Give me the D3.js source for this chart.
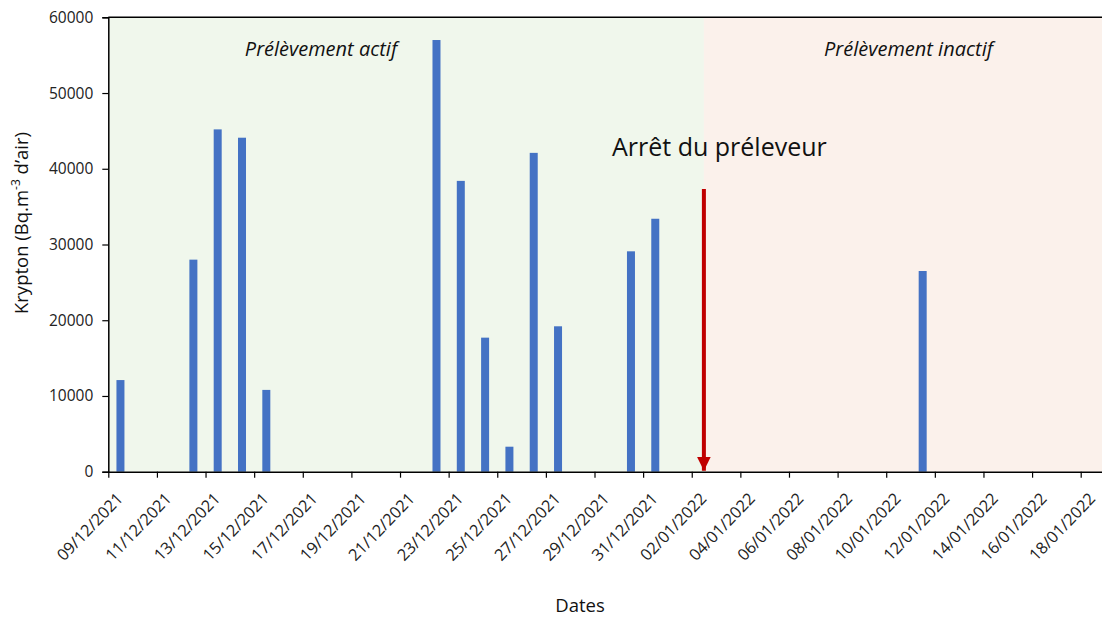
<!DOCTYPE html>
<html>
<head>
<meta charset="utf-8">
<script src="https://cdn.jsdelivr.net/npm/d3@7"></script>
<style>
  html, body { margin: 0; padding: 0; background: #fff; }
  svg { display: block; font-family: "Open Sans", sans-serif; }
</style>
</head>
<body>
<svg id="chart" width="1102" height="617"></svg>
<script>
// ---- data ----
const dates = ["09/12/2021","12/12/2021","13/12/2021","14/12/2021","15/12/2021",
               "22/12/2021","23/12/2021","24/12/2021","25/12/2021","26/12/2021","27/12/2021",
               "30/12/2021","31/12/2021","11/01/2022"];
const values = [12100, 28000, 45200, 44100, 10800,
                57000, 38400, 17700, 3300, 42100, 19200,
                29100, 33400, 26500];
const yTicks = [0, 10000, 20000, 30000, 40000, 50000, 60000];
const domainStart = "09/12/2021";
const domainEnd = "19/01/2022";
const stopDate = "02/01/2022";
const zoneLabels = ["Prélèvement actif", "Prélèvement inactif"];
const annotation = "Arrêt du préleveur";
const xTitle = "Dates";

// ---- setup ----
(function () {
const parse = d3.utcParse("%d/%m/%Y");
const fmt = d3.utcFormat("%d/%m/%Y");
const svg = d3.select("#chart");
const pLeft = 108.3, pTop = 17.3, pBottom = 471.7;
const dayW = 24.31;
const t0 = parse(domainStart), t1 = parse(domainEnd);
const nDays = d3.utcDay.count(t0, t1);
const x = d3.scaleUtc().domain([t0, t1]).range([pLeft, pLeft + nDays * dayW]);
const y = d3.scaleLinear().domain([0, 60000]).range([pBottom, pTop]);

const stopX = x(d3.utcHour.offset(parse(stopDate), 12));

// backgrounds
svg.append("rect").attr("x", pLeft).attr("y", pTop).attr("width", stopX - pLeft).attr("height", pBottom - pTop)
  .attr("fill", "#F0F7EC");
svg.append("rect").attr("x", stopX).attr("y", pTop).attr("width", x.range()[1] - stopX).attr("height", pBottom - pTop)
  .attr("fill", "#FBF1EB");

// top border
svg.append("line").attr("x1", pLeft).attr("x2", x.range()[1]).attr("y1", pTop).attr("y2", pTop)
  .attr("stroke", "#000").attr("stroke-width", 1.5);

// zone labels
svg.append("text").attr("x", 321).attr("y", 56).attr("text-anchor", "middle")
  .attr("font-style", "italic").attr("font-size", 20).attr("fill", "#111").text(zoneLabels[0]);
svg.append("text").attr("x", 908.5).attr("y", 56).attr("text-anchor", "middle")
  .attr("font-style", "italic").attr("font-size", 20).attr("fill", "#111").text(zoneLabels[1]);

// bars
const barW = 8;
svg.append("g").selectAll("rect").data(dates.map((d, i) => ({d: parse(d), v: values[i]})))
  .join("rect")
  .attr("x", d => x(d3.utcHour.offset(d.d, 12)) - barW / 2)
  .attr("y", d => y(d.v))
  .attr("width", barW)
  .attr("height", d => y(0) - y(d.v))
  .attr("fill", "#4472C4");

// y axis
const yAxis = svg.append("g").attr("transform", `translate(${pLeft},0)`)
  .call(d3.axisLeft(y).tickValues(yTicks).tickFormat(d3.format("d")).tickSize(6).tickPadding(9));
yAxis.select(".domain").attr("stroke", "#000").attr("stroke-width", 1.5);
yAxis.selectAll(".tick line").attr("stroke", "#000").attr("stroke-width", 1.2);
yAxis.selectAll(".tick text").attr("font-size", 15.5).attr("fill", "#222").attr("font-family", "Open Sans");

// x axis
const xTickVals = d3.utcDay.range(t0, t1, 2);
const xAxis = svg.append("g").attr("transform", `translate(0,${pBottom})`)
  .call(d3.axisBottom(x).tickValues(xTickVals).tickFormat(fmt).tickSize(6).tickSizeOuter(0));
xAxis.select(".domain").attr("stroke", "#000").attr("stroke-width", 1.5);
xAxis.selectAll(".tick line").attr("stroke", "#000").attr("stroke-width", 1.2);
xAxis.selectAll(".tick text")
  .attr("font-size", 16.3).attr("fill", "#222").attr("font-family", "Open Sans")
  .attr("text-anchor", "end")
  .attr("y", 0).attr("dy", "0.35em")
  .attr("transform", "translate(11,24) rotate(-46)");

// arrow
const defs = svg.append("defs");
defs.append("marker").attr("id", "ah").attr("viewBox", "0 0 10 10")
  .attr("refX", 10).attr("refY", 5).attr("markerWidth", 3.4).attr("markerHeight", 3.4)
  .attr("markerUnits", "strokeWidth").attr("orient", "auto")
  .append("path").attr("d", "M0,0 L10,5 L0,10 Z").attr("fill", "#C00000");
svg.append("line").attr("x1", stopX).attr("x2", stopX).attr("y1", 189).attr("y2", pBottom - 1)
  .attr("stroke", "#C00000").attr("stroke-width", 4).attr("marker-end", "url(#ah)");

// annotation
svg.append("text").attr("x", 612).attr("y", 156).attr("font-size", 25).attr("fill", "#111").text(annotation);

// axis titles
svg.append("text").attr("transform", "translate(28,223) rotate(-90)").attr("text-anchor", "middle")
  .attr("font-size", 18.5).attr("fill", "#111")
  .call(t => {
    t.append("tspan").text("Krypton (Bq.m");
    t.append("tspan").attr("baseline-shift", "super").attr("font-size", 12).text("-3");
    t.append("tspan").text(" d’air)");
  });
svg.append("text").attr("x", 580).attr("y", 612).attr("text-anchor", "middle")
  .attr("font-size", 18.5).attr("fill", "#111").text(xTitle);
})();
</script>
</body>
</html>
